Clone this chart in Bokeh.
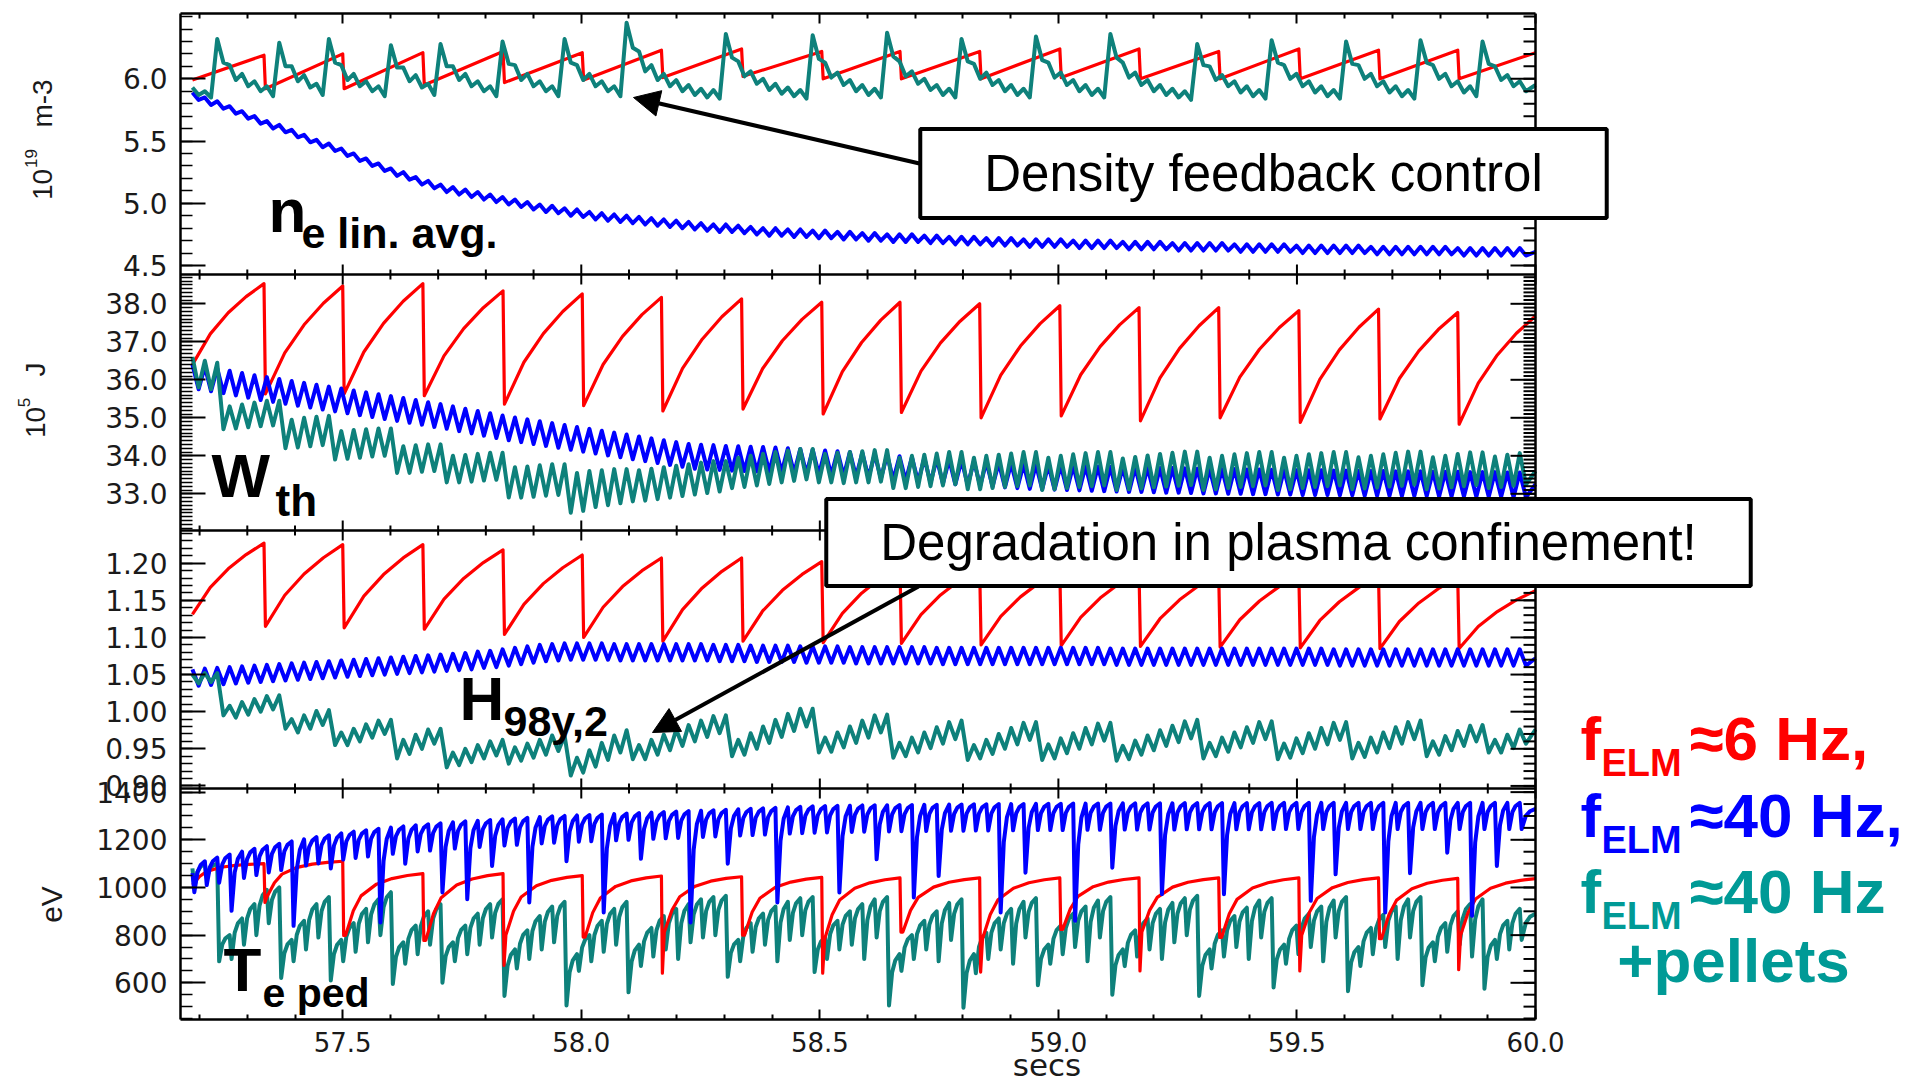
import math
from bokeh.plotting import figure
from bokeh.layouts import row
from bokeh.models import Range1d, LinearAxis, FixedTicker, Label, Arrow, NormalHead, PrintfTickFormatter
from bokeh.embed import file_html
from bokeh.resources import INLINE

# ------------------------------------------------------------------ data
# times of the ~40 Hz ELMs (blue and teal runs), s
elm_t = [57.185, 57.211, 57.237, 57.263, 57.289, 57.315, 57.341, 57.367, 57.393, 57.419,
         57.445, 57.471, 57.497, 57.523, 57.549, 57.575, 57.601, 57.627, 57.653, 57.679,
         57.705, 57.731, 57.757, 57.783, 57.809, 57.835, 57.861, 57.887, 57.913, 57.939,
         57.965, 57.991, 58.017, 58.043, 58.069, 58.095, 58.121, 58.147, 58.173, 58.199,
         58.225, 58.251, 58.277, 58.303, 58.329, 58.355, 58.381, 58.407, 58.433, 58.459,
         58.485, 58.511, 58.537, 58.563, 58.589, 58.615, 58.641, 58.667, 58.693, 58.719,
         58.745, 58.771, 58.797, 58.823, 58.849, 58.875, 58.901, 58.927, 58.953, 58.979,
         59.005, 59.031, 59.057, 59.083, 59.109, 59.135, 59.161, 59.187, 59.213, 59.239,
         59.265, 59.291, 59.317, 59.343, 59.369, 59.395, 59.421, 59.447, 59.473, 59.499,
         59.525, 59.551, 59.577, 59.603, 59.629, 59.655, 59.681, 59.707, 59.733, 59.759,
         59.785, 59.811, 59.837, 59.863, 59.889, 59.915, 59.941, 59.967]
# times of the ~6 Hz ELMs (red run), s
red_t = [57.335, 57.500, 57.668, 57.836, 58.002, 58.168, 58.336, 58.504,
         58.668, 58.835, 59.003, 59.169, 59.336, 59.504, 59.671, 59.837]
t_begin, t_end = 57.185, 60.0

# ---- n_e lin. avg. (1e19 m-3)
red_ne_start, red_ne_end = 5.99, 6.21
red_ne_pre = [6.19, 6.20, 6.21, 6.22, 6.21, 6.23, 6.24, 6.22, 6.22, 6.22, 6.24, 6.24, 6.22, 6.24, 6.23, 6.23]
red_ne_post = [5.92, 5.92, 5.95, 5.97, 5.99, 6.01, 6.02, 6.00, 6.00, 6.00, 6.01, 6.00, 6.00, 6.00, 6.00, 6.00]
blue_ne_hi = [5.89, 5.85, 5.82, 5.78, 5.74, 5.70, 5.66, 5.63, 5.59, 5.55,
              5.51, 5.48, 5.44, 5.40, 5.36, 5.32, 5.28, 5.25, 5.21, 5.18,
              5.15, 5.13, 5.11, 5.09, 5.07, 5.05, 5.03, 5.01, 4.99, 4.98,
              4.96, 4.95, 4.93, 4.92, 4.91, 4.90, 4.89, 4.88, 4.87, 4.86,
              4.85, 4.84, 4.83, 4.83, 4.82, 4.81, 4.80, 4.80, 4.79, 4.79,
              4.78, 4.78, 4.77, 4.77, 4.76, 4.76, 4.75, 4.75, 4.75, 4.74,
              4.74, 4.73, 4.73, 4.73, 4.72, 4.72, 4.72, 4.71, 4.71, 4.71,
              4.71, 4.70, 4.70, 4.70, 4.70, 4.69, 4.69, 4.69, 4.69, 4.68,
              4.68, 4.68, 4.68, 4.68, 4.67, 4.67, 4.67, 4.67, 4.67, 4.66,
              4.66, 4.66, 4.66, 4.66, 4.66, 4.65, 4.65, 4.65, 4.65, 4.65,
              4.65, 4.65, 4.64, 4.64, 4.64, 4.64, 4.64, 4.64]
blue_ne_lo = [5.83, 5.79, 5.76, 5.72, 5.68, 5.64, 5.60, 5.57, 5.53, 5.49,
              5.45, 5.42, 5.38, 5.34, 5.30, 5.26, 5.22, 5.19, 5.15, 5.12,
              5.09, 5.07, 5.05, 5.03, 5.01, 4.99, 4.97, 4.95, 4.93, 4.92,
              4.90, 4.89, 4.87, 4.86, 4.85, 4.84, 4.83, 4.82, 4.81, 4.80,
              4.79, 4.78, 4.77, 4.77, 4.76, 4.75, 4.74, 4.74, 4.73, 4.73,
              4.72, 4.72, 4.71, 4.71, 4.70, 4.70, 4.69, 4.69, 4.69, 4.68,
              4.68, 4.67, 4.67, 4.67, 4.66, 4.66, 4.66, 4.65, 4.65, 4.65,
              4.65, 4.64, 4.64, 4.64, 4.64, 4.63, 4.63, 4.63, 4.63, 4.62,
              4.62, 4.62, 4.62, 4.62, 4.61, 4.61, 4.61, 4.61, 4.61, 4.60,
              4.60, 4.60, 4.60, 4.60, 4.60, 4.59, 4.59, 4.59, 4.59, 4.59,
              4.59, 4.59, 4.58, 4.58, 4.58, 4.58, 4.58, 4.58]
blue_ne_end = 4.61
teal_ne_hi = [5.93, 5.90, 6.32, 6.11, 6.04, 5.98, 5.94, 6.29, 6.10, 6.03,
              5.96, 6.32, 6.11, 6.04, 5.98, 5.94, 6.27, 6.09, 6.03, 5.96,
              6.28, 6.10, 6.04, 5.98, 5.94, 6.30, 6.11, 6.04, 5.98, 5.94,
              6.32, 6.11, 6.04, 5.98, 5.94, 6.45, 6.22, 6.11, 6.04, 5.99,
              5.95, 5.92, 5.91, 6.36, 6.14, 6.06, 6.00, 5.96, 5.93, 5.91,
              6.35, 6.13, 6.05, 5.99, 5.95, 5.92, 6.37, 6.14, 6.06, 6.00,
              5.95, 5.92, 6.32, 6.12, 6.05, 5.99, 5.95, 5.92, 6.34, 6.13,
              6.05, 5.99, 5.95, 5.92, 6.36, 6.13, 6.05, 5.99, 5.95, 5.92,
              5.90, 6.28, 6.10, 6.03, 5.98, 5.94, 5.91, 6.31, 6.11, 6.04,
              5.98, 5.94, 5.91, 6.30, 6.11, 6.04, 5.98, 5.94, 5.91, 6.31,
              6.11, 6.04, 5.98, 5.94, 6.30, 6.10, 6.03, 5.98]
teal_ne_lo = [5.87, 5.85, 6.13, 5.99, 5.94, 5.90, 5.86, 6.10, 5.98, 5.93,
              5.87, 6.13, 5.99, 5.94, 5.90, 5.86, 6.09, 5.98, 5.93, 5.87,
              6.10, 5.99, 5.94, 5.90, 5.86, 6.12, 5.99, 5.94, 5.90, 5.86,
              6.13, 5.99, 5.94, 5.90, 5.86, 6.25, 6.06, 5.99, 5.94, 5.90,
              5.87, 5.85, 5.84, 6.17, 6.02, 5.96, 5.91, 5.88, 5.86, 5.84,
              6.16, 6.01, 5.95, 5.90, 5.87, 5.85, 6.18, 6.02, 5.96, 5.91,
              5.87, 5.85, 6.14, 6.00, 5.95, 5.90, 5.87, 5.85, 6.15, 6.01,
              5.95, 5.90, 5.87, 5.85, 6.17, 6.01, 5.95, 5.90, 5.87, 5.85,
              5.83, 6.11, 5.99, 5.94, 5.89, 5.86, 5.84, 6.13, 6.00, 5.94,
              5.89, 5.86, 5.84, 6.12, 6.00, 5.94, 5.89, 5.86, 5.84, 6.13,
              6.00, 5.94, 5.89, 5.86, 6.12, 5.99, 5.94, 5.90]
teal_ne_end = 5.95

# ---- W_th (1e5 J)
red_W_start, red_W_end = 36.40, 37.68
red_W_pre = [38.53, 38.47, 38.53, 38.34, 38.26, 38.17, 38.13, 38.04, 38.04, 38.00, 37.95, 37.90, 37.90, 37.82, 37.86, 37.77]
red_W_post = [35.63, 35.63, 35.58, 35.36, 35.32, 35.18, 35.23, 35.10, 35.14, 35.00, 35.05, 34.92, 35.00, 34.88, 34.97, 34.83]
blue_W_hi = [36.40, 36.35, 36.30, 36.24, 36.18, 36.12, 36.07, 36.02, 35.97, 35.92,
             35.87, 35.82, 35.77, 35.72, 35.67, 35.62, 35.57, 35.52, 35.47, 35.41,
             35.36, 35.30, 35.24, 35.18, 35.12, 35.06, 35.01, 34.96, 34.91, 34.86,
             34.81, 34.76, 34.71, 34.66, 34.61, 34.56, 34.51, 34.46, 34.41, 34.36,
             34.31, 34.29, 34.28, 34.26, 34.25, 34.24, 34.23, 34.22, 34.20, 34.18,
             34.16, 34.14, 34.12, 34.10, 34.08, 34.05, 34.02, 33.99, 33.96, 33.94,
             33.92, 33.90, 33.88, 33.86, 33.84, 33.82, 33.80, 33.78, 33.77, 33.76,
             33.75, 33.74, 33.73, 33.72, 33.71, 33.70, 33.70, 33.69, 33.68, 33.68,
             33.67, 33.66, 33.66, 33.65, 33.65, 33.64, 33.64, 33.63, 33.63, 33.62,
             33.62, 33.62, 33.61, 33.61, 33.60, 33.60, 33.60, 33.59, 33.59, 33.59,
             33.58, 33.58, 33.58, 33.57, 33.57, 33.57, 33.56, 33.56]
blue_W_lo = [35.75, 35.70, 35.65, 35.59, 35.53, 35.47, 35.42, 35.37, 35.32, 35.27,
             35.22, 35.17, 35.12, 35.07, 35.02, 34.97, 34.92, 34.87, 34.82, 34.76,
             34.71, 34.65, 34.59, 34.53, 34.47, 34.41, 34.36, 34.31, 34.26, 34.21,
             34.16, 34.11, 34.06, 34.01, 33.96, 33.91, 33.86, 33.81, 33.76, 33.71,
             33.66, 33.64, 33.63, 33.61, 33.60, 33.59, 33.58, 33.57, 33.55, 33.53,
             33.51, 33.49, 33.47, 33.45, 33.43, 33.40, 33.37, 33.34, 33.31, 33.29,
             33.27, 33.25, 33.23, 33.21, 33.19, 33.17, 33.15, 33.13, 33.12, 33.11,
             33.10, 33.09, 33.08, 33.07, 33.06, 33.05, 33.05, 33.04, 33.03, 33.03,
             33.02, 33.01, 33.01, 33.00, 33.00, 32.99, 32.99, 32.98, 32.98, 32.97,
             32.97, 32.97, 32.96, 32.96, 32.95, 32.95, 32.95, 32.94, 32.94, 32.94,
             32.93, 32.93, 32.93, 32.92, 32.92, 32.92, 32.91, 32.91]
blue_W_end = 33.25
teal_W_hi = [36.60, 36.50, 36.45, 35.30, 35.35, 35.40, 35.45, 35.45, 34.95, 35.00,
             35.03, 35.05, 34.65, 34.68, 34.70, 34.72, 34.72, 34.25, 34.28, 34.30,
             34.30, 34.00, 34.02, 34.05, 34.08, 34.08, 33.70, 33.72, 33.75, 33.78,
             33.78, 33.55, 33.60, 33.62, 33.65, 33.65, 33.62, 33.66, 33.70, 33.74,
             33.78, 33.82, 33.86, 33.86, 33.95, 34.00, 34.05, 34.10, 34.14, 34.18,
             34.18, 34.05, 34.08, 34.10, 34.12, 34.15, 34.15, 33.95, 34.00, 34.03,
             34.06, 34.10, 34.10, 33.95, 34.00, 34.03, 34.06, 34.10, 34.10, 33.95,
             34.00, 34.04, 34.07, 34.10, 34.10, 33.93, 33.97, 34.01, 34.05, 34.08,
             34.11, 34.11, 33.95, 34.00, 34.04, 34.07, 34.10, 34.10, 33.95, 34.00,
             34.04, 34.07, 34.10, 34.10, 33.96, 34.00, 34.04, 34.08, 34.11, 34.11,
             33.96, 34.00, 34.05, 34.09, 34.09, 33.98, 34.03, 34.07]
teal_W_lo = [35.80, 35.75, 34.70, 34.72, 34.75, 34.78, 34.80, 34.20, 34.22, 34.25,
             34.28, 33.90, 33.92, 33.95, 33.98, 34.00, 33.55, 33.55, 33.58, 33.60,
             33.30, 33.30, 33.32, 33.35, 33.37, 32.90, 32.90, 32.92, 32.95, 32.97,
             32.50, 32.55, 32.65, 32.70, 32.75, 32.80, 32.82, 32.86, 32.90, 32.94,
             32.98, 33.02, 33.06, 33.15, 33.18, 33.22, 33.26, 33.30, 33.34, 33.38,
             33.30, 33.30, 33.28, 33.30, 33.30, 33.32, 33.15, 33.15, 33.18, 33.20,
             33.22, 33.25, 33.12, 33.12, 33.15, 33.18, 33.20, 33.22, 33.10, 33.12,
             33.15, 33.18, 33.20, 33.22, 33.10, 33.12, 33.14, 33.17, 33.19, 33.21,
             33.23, 33.10, 33.12, 33.15, 33.18, 33.20, 33.22, 33.10, 33.12, 33.15,
             33.18, 33.20, 33.22, 33.12, 33.14, 33.16, 33.19, 33.21, 33.24, 33.12,
             33.14, 33.17, 33.20, 33.23, 33.15, 33.18, 33.21, 33.24]
teal_W_end = 33.60

# ---- H98y,2
red_H_start, red_H_end = 1.131, 1.163
red_H_pre = [1.227, 1.225, 1.225, 1.218, 1.211, 1.207, 1.207, 1.202, 1.197, 1.194, 1.191, 1.189, 1.186, 1.184, 1.183, 1.181]
red_H_post = [1.115, 1.113, 1.111, 1.104, 1.100, 1.095, 1.095, 1.093, 1.092, 1.090, 1.089, 1.088, 1.087, 1.086, 1.085, 1.085]
blue_H_hi = [1.057, 1.058, 1.059, 1.060, 1.061, 1.062, 1.063, 1.064, 1.065, 1.066,
             1.067, 1.068, 1.069, 1.070, 1.071, 1.072, 1.073, 1.074, 1.075, 1.076,
             1.077, 1.078, 1.079, 1.081, 1.082, 1.084, 1.086, 1.088, 1.090, 1.091,
             1.092, 1.092, 1.092, 1.092, 1.091, 1.091, 1.091, 1.091, 1.091, 1.091,
             1.091, 1.091, 1.090, 1.090, 1.090, 1.089, 1.089, 1.089, 1.089, 1.088,
             1.088, 1.088, 1.088, 1.087, 1.087, 1.087, 1.087, 1.087, 1.087, 1.087,
             1.086, 1.086, 1.086, 1.086, 1.086, 1.086, 1.086, 1.086, 1.086, 1.086,
             1.086, 1.086, 1.086, 1.086, 1.085, 1.085, 1.085, 1.085, 1.085, 1.085,
             1.085, 1.085, 1.085, 1.085, 1.085, 1.085, 1.085, 1.085, 1.085, 1.085,
             1.085, 1.085, 1.084, 1.084, 1.084, 1.084, 1.084, 1.084, 1.084, 1.084,
             1.084, 1.084, 1.084, 1.084, 1.084, 1.084, 1.084, 1.084]
blue_H_lo = [1.035, 1.036, 1.037, 1.038, 1.039, 1.040, 1.041, 1.042, 1.043, 1.044,
             1.045, 1.046, 1.047, 1.048, 1.049, 1.050, 1.051, 1.052, 1.053, 1.054,
             1.055, 1.056, 1.057, 1.059, 1.060, 1.062, 1.064, 1.066, 1.068, 1.069,
             1.070, 1.070, 1.070, 1.070, 1.069, 1.069, 1.069, 1.069, 1.069, 1.069,
             1.069, 1.069, 1.068, 1.068, 1.068, 1.067, 1.067, 1.067, 1.067, 1.066,
             1.066, 1.066, 1.066, 1.065, 1.065, 1.065, 1.065, 1.065, 1.065, 1.065,
             1.064, 1.064, 1.064, 1.064, 1.064, 1.064, 1.064, 1.064, 1.064, 1.064,
             1.064, 1.064, 1.064, 1.064, 1.063, 1.063, 1.063, 1.063, 1.063, 1.063,
             1.063, 1.063, 1.063, 1.063, 1.063, 1.063, 1.063, 1.063, 1.063, 1.063,
             1.063, 1.063, 1.062, 1.062, 1.062, 1.062, 1.062, 1.062, 1.062, 1.062,
             1.062, 1.062, 1.062, 1.062, 1.062, 1.062, 1.062, 1.062]
blue_H_end = 1.072
teal_H_hi = [1.050, 1.052, 1.052, 1.008, 1.013, 1.017, 1.021, 1.022, 0.990, 0.995,
             1.001, 1.002, 0.972, 0.977, 0.983, 0.988, 0.989, 0.962, 0.969, 0.976,
             0.977, 0.945, 0.950, 0.955, 0.960, 0.962, 0.952, 0.957, 0.962, 0.968,
             0.968, 0.938, 0.948, 0.958, 0.968, 0.975, 0.955, 0.962, 0.969, 0.976,
             0.982, 0.988, 0.994, 0.995, 0.962, 0.971, 0.980, 0.989, 0.997, 1.004,
             1.004, 0.965, 0.972, 0.980, 0.988, 0.995, 0.996, 0.958, 0.965, 0.972,
             0.979, 0.986, 0.988, 0.955, 0.962, 0.970, 0.978, 0.985, 0.986, 0.956,
             0.964, 0.971, 0.978, 0.984, 0.985, 0.954, 0.961, 0.968, 0.975, 0.981,
             0.987, 0.989, 0.958, 0.965, 0.972, 0.979, 0.986, 0.987, 0.957, 0.964,
             0.971, 0.978, 0.985, 0.986, 0.958, 0.965, 0.972, 0.979, 0.986, 0.988,
             0.960, 0.967, 0.974, 0.981, 0.982, 0.962, 0.969, 0.976]
teal_H_lo = [1.038, 1.040, 0.995, 0.992, 0.996, 1.000, 1.003, 0.977, 0.972, 0.977,
             0.982, 0.955, 0.955, 0.960, 0.965, 0.970, 0.937, 0.943, 0.950, 0.957,
             0.925, 0.928, 0.932, 0.937, 0.941, 0.930, 0.934, 0.938, 0.942, 0.947,
             0.914, 0.918, 0.926, 0.935, 0.945, 0.936, 0.936, 0.942, 0.948, 0.954,
             0.960, 0.966, 0.971, 0.940, 0.942, 0.950, 0.958, 0.966, 0.974, 0.980,
             0.945, 0.946, 0.952, 0.958, 0.965, 0.972, 0.938, 0.940, 0.945, 0.951,
             0.957, 0.963, 0.935, 0.937, 0.943, 0.950, 0.956, 0.962, 0.935, 0.937,
             0.944, 0.950, 0.956, 0.961, 0.934, 0.936, 0.942, 0.948, 0.954, 0.959,
             0.964, 0.937, 0.940, 0.946, 0.952, 0.958, 0.963, 0.936, 0.938, 0.944,
             0.950, 0.956, 0.962, 0.937, 0.939, 0.945, 0.951, 0.957, 0.963, 0.940,
             0.942, 0.948, 0.954, 0.960, 0.945, 0.945, 0.951, 0.957]
teal_H_end = 0.976

# ---- T_e ped (eV)
red_Te_start, red_Te_end = 1010, 1037
red_Te_pre = [1100, 1110, 1058, 1058, 1050, 1048, 1045, 1042, 1040, 1040, 1040, 1040, 1040, 1040, 1040, 1038]
red_Te_min = [937, 799, 778, 673, 792, 640, 800, 640, 813, 645, 824, 650, 790, 650, 785, 655]
red_Te_post = [960, 799, 778, 800, 792, 812, 800, 783, 813, 785, 824, 813, 790, 800, 785, 800]
blue_Te_hi = [1060, 1110, 1125, 1138, 1150, 1162, 1173, 1183, 1193, 1202,
              1211, 1219, 1227, 1234, 1240, 1246, 1251, 1256, 1261, 1265,
              1269, 1273, 1277, 1280, 1283, 1286, 1289, 1292, 1295, 1298,
              1300, 1302, 1304, 1306, 1308, 1310, 1312, 1314, 1316, 1318,
              1320, 1322, 1324, 1326, 1328, 1330, 1332, 1334, 1336, 1338,
              1340, 1341, 1342, 1343, 1344, 1345, 1345, 1346, 1346, 1347,
              1347, 1348, 1348, 1349, 1349, 1350, 1350, 1350, 1351, 1351,
              1351, 1352, 1352, 1352, 1352, 1353, 1353, 1353, 1353, 1353,
              1354, 1354, 1354, 1354, 1354, 1354, 1354, 1355, 1355, 1355,
              1355, 1355, 1355, 1355, 1355, 1355, 1355, 1355, 1355, 1355,
              1355, 1355, 1355, 1355, 1355, 1355, 1355, 1355]
blue_Te_lo = [980, 1010, 1020, 902, 1040, 1052, 1063, 1073, 839, 1092,
              1101, 1080, 1117, 1124, 1130, 853, 1141, 1100, 1151, 1155,
              979, 1163, 951, 1170, 1090, 1176, 1179, 937, 1185, 1188,
              1110, 1192, 1194, 895, 1198, 1200, 1120, 1204, 1206, 1208,
              853, 1212, 1214, 1100, 1218, 1220, 1222, 937, 1226, 1228,
              1230, 1231, 979, 1233, 1234, 1118, 1235, 1236, 958, 1237,
              1048, 1238, 1238, 1239, 1239, 895, 1240, 1062, 1241, 1241,
              1241, 860, 1242, 1242, 1083, 1243, 1243, 1243, 972, 1243,
              1244, 1244, 1244, 972, 1244, 1244, 1244, 1245, 1245, 1245,
              944, 1245, 1055, 1245, 1245, 1245, 895, 1245, 1060, 1245,
              1245, 1146, 1245, 881, 1245, 1090, 1245, 1245]
blue_Te_end = 1330
teal_Te_hi = [1080, 1100, 1100, 800, 870, 930, 990, 1000, 780, 860,
              930, 960, 780, 850, 910, 950, 980, 770, 840, 900,
              930, 770, 840, 890, 930, 950, 740, 820, 880, 920,
              940, 720, 800, 860, 910, 940, 760, 830, 880, 910,
              930, 950, 960, 965, 780, 850, 890, 920, 940, 955,
              960, 790, 860, 900, 930, 950, 960, 720, 800, 860,
              900, 935, 950, 720, 810, 870, 910, 940, 955, 760,
              840, 890, 920, 945, 960, 740, 820, 870, 910, 935,
              955, 965, 740, 820, 880, 915, 945, 955, 760, 840,
              890, 920, 945, 960, 750, 830, 885, 920, 950, 960,
              770, 850, 900, 930, 950, 780, 860, 910]
teal_Te_lo = [1000, 1040, 690, 700, 760, 800, 850, 620, 690, 740,
              790, 610, 690, 730, 770, 800, 595, 680, 720, 760,
              600, 690, 720, 760, 790, 545, 660, 700, 740, 770,
              505, 650, 690, 730, 760, 560, 670, 710, 740, 700,
              770, 790, 800, 625, 690, 730, 760, 690, 780, 800,
              645, 700, 740, 760, 700, 790, 505, 650, 700, 740,
              690, 780, 495, 640, 700, 740, 680, 790, 590, 680,
              720, 750, 690, 790, 550, 670, 710, 740, 700, 770,
              800, 545, 660, 710, 750, 700, 790, 580, 680, 720,
              750, 690, 790, 565, 670, 720, 750, 700, 790, 590,
              690, 730, 760, 710, 575, 700, 740, 780]
teal_Te_end = 890

# recovery shapes: (fraction of interval, fraction recovered)
shape_linear = [(0.0, 0.0), (1.0, 1.0)]
shape_red_W = [(0.0, 0.0), (0.25, 0.38), (0.5, 0.64), (0.75, 0.84), (1.0, 1.0)]
shape_red_Te = [(0.0, 0.0), (0.1, 0.4), (0.2, 0.64), (0.4, 0.83), (0.6, 0.92), (0.8, 0.97), (1.0, 1.0)]
shape_Te40 = [(0.0, 0.0), (0.3, 0.65), (0.6, 0.88), (1.0, 1.0)]

# axis ticks
x_major = [57.5, 58.0, 58.5, 59.0, 59.5, 60.0]
x_minor = [57.2, 57.3, 57.4, 57.6, 57.7, 57.8, 57.9, 58.1, 58.2, 58.3, 58.4, 58.6, 58.7, 58.8, 58.9,
           59.1, 59.2, 59.3, 59.4, 59.6, 59.7, 59.8, 59.9]
ne_major, ne_labels = [4.5, 5.0, 5.5, 6.0], ["4.5", "5.0", "5.5", "6.0"]
W_major, W_labels = [33.0, 34.0, 35.0, 36.0, 37.0, 38.0], ["33.0", "34.0", "35.0", "36.0", "37.0", "38.0"]
H_major, H_labels = [0.90, 0.95, 1.00, 1.05, 1.10, 1.15, 1.20], ["0.90", "0.95", "1.00", "1.05", "1.10", "1.15", "1.20"]
Te_major, Te_labels = [600, 800, 1000, 1200, 1400], ["600", "800", "1000", "1200", "1400"]

# ------------------------------------------------------------------ layout
CW, CH = 1913, 1090
LEFT_W = 70                                    # strip holding the rotated unit titles
FL, FR, FT, FB = 180, 1535, 13, 1019           # panel box edges (page px)
T0, T1 = 57.16, 60.0
PXS = (FR - FL) / (T1 - T0)                    # px per second
T_RIGHT = T1 + (CW - FR) / PXS                 # data frame runs on to the page edge
bounds = [274, 530, 788]                       # panel separators (px)
cal = {"ne": (6.0, 78.3, 4.5, 265.0), "W": (38.0, 303.3, 33.0, 493.3),
       "H": (1.20, 562.7, 0.95, 748.3), "Te": (1200.0, 839.3, 600.0, 982.3)}

def tx(px):
    return T0 + (px - FL) / PXS

def vpx(name, v):
    va, ya, vb, yb = cal[name]
    return ya + (va - v) * (yb - ya) / (va - vb)

def pxv(name, y):
    va, ya, vb, yb = cal[name]
    return va + (ya - y) * (va - vb) / (yb - ya)

p = figure(width=CW - LEFT_W, height=CH, x_range=Range1d(T0, T_RIGHT), y_range=Range1d(FB, FT),
           output_backend="svg", toolbar_location=None, title=None,
           x_axis_location=None, y_axis_location=None,
           min_border_left=FL - LEFT_W, min_border_right=0, min_border_top=FT, min_border_bottom=CH - FB)
p.background_fill_color = "white"
p.border_fill_color = "white"
p.outline_line_color = None
p.grid.visible = False
p.extra_y_ranges = {k: Range1d(pxv(k, FB), pxv(k, FT)) for k in cal}


def build(times, hi, lo, drop_dt, shape, start=None, end=None, spike=None):
    xs, ys = [], []
    if start is not None:
        xs.append(start[0]); ys.append(start[1])
    n = min(len(times), len(hi), len(lo))
    for k in range(n):
        t = times[k]
        if xs:
            t0, v0 = xs[-1], ys[-1]
            for f, g in shape[1:-1]:
                xs.append(t0 + f * (t - t0)); ys.append(v0 + g * (hi[k] - v0))
        xs.append(t); ys.append(hi[k])
        if spike is not None:
            xs.append(t + 0.002); ys.append(spike[k])
        xs.append(t + drop_dt); ys.append(lo[k])
    if end is not None:
        t0, v0 = xs[-1], ys[-1]
        for f, g in shape[1:-1]:
            xs.append(t0 + f * (end[0] - t0)); ys.append(v0 + g * (end[1] - v0))
        xs.append(end[0]); ys.append(end[1])
    return xs, ys

RED, BLUE, TEAL = "#ff0000", "#0000ff", "#0e817b"

def draw(name, xy, color, width):
    p.line(xy[0], xy[1], y_range_name=name, line_color=color, line_width=width, line_join="round")

draw("ne", build(red_t, red_ne_pre, red_ne_post, 0.003, shape_linear, (t_begin, red_ne_start), (t_end, red_ne_end)), RED, 3.2)
draw("ne", build(elm_t, blue_ne_hi, blue_ne_lo, 0.013, shape_linear, None, (t_end, blue_ne_end)), BLUE, 4)
draw("ne", build(elm_t, teal_ne_hi, teal_ne_lo, 0.013, shape_linear, None, (t_end, teal_ne_end)), TEAL, 4)
draw("W", build(red_t, red_W_pre, red_W_post, 0.003, shape_red_W, (t_begin, red_W_start), (t_end, red_W_end)), RED, 3.2)
draw("W", build(elm_t, blue_W_hi, blue_W_lo, 0.013, shape_linear, None, (t_end, blue_W_end)), BLUE, 4)
draw("W", build(elm_t, teal_W_hi, teal_W_lo, 0.013, shape_linear, None, (t_end, teal_W_end)), TEAL, 4)
draw("H", build(red_t, red_H_pre, red_H_post, 0.003, shape_red_W, (t_begin, red_H_start), (t_end, red_H_end)), RED, 3.2)
draw("H", build(elm_t, blue_H_hi, blue_H_lo, 0.013, shape_linear, None, (t_end, blue_H_end)), BLUE, 4)
draw("H", build(elm_t, teal_H_hi, teal_H_lo, 0.013, shape_linear, None, (t_end, teal_H_end)), TEAL, 4)
draw("Te", build(elm_t, teal_Te_hi, teal_Te_lo, 0.004, shape_Te40, None, (t_end, teal_Te_end)), TEAL, 4)
draw("Te", build(red_t, red_Te_pre, red_Te_post, 0.006, shape_red_Te, (t_begin, red_Te_start), (t_end, red_Te_end), spike=red_Te_min), RED, 3.2)
draw("Te", build(elm_t, blue_Te_hi, blue_Te_lo, 0.004, shape_Te40, None, (t_end, blue_Te_end)), BLUE, 4)

# ------------------------------------------------------------------ axes
TICK_FONT = "DejaVu Sans"
y_major, y_minor, y_over = [], [], {}
for name, majors, labels, mstep, mlo, mhi in [
        ("ne", ne_major, ne_labels, 0.1, 4.5, 6.5),
        ("W", W_major, W_labels, 0.1, 32.1, 38.7),
        ("H", H_major, H_labels, 0.01, 0.90, 1.24),
        ("Te", Te_major, Te_labels, 50, 450, 1400)]:
    for v, lb in zip(majors, labels):
        y = round(vpx(name, v), 2)
        y_major.append(y)
        y_over[y] = lb
    nsteps = int(round((mhi - mlo) / mstep))
    for i in range(nsteps + 1):
        y_minor.append(round(vpx(name, mlo + i * mstep), 2))

yl = LinearAxis(ticker=FixedTicker(ticks=y_major, minor_ticks=y_minor), major_label_overrides=y_over)
yl.major_tick_in, yl.major_tick_out = 25, 0
yl.minor_tick_in, yl.minor_tick_out = 12, 0
yl.major_tick_line_width = 2
yl.minor_tick_line_width = 1.6
yl.axis_line_width = 2.5
yl.major_label_text_font = TICK_FONT
yl.major_label_text_font_size = "28px"
yl.major_label_text_color = "#1a1a1a"
yl.major_label_standoff = 13
p.add_layout(yl, "left")

def style_x(ax, show):
    ax.ticker = FixedTicker(ticks=x_major, minor_ticks=x_minor)
    ax.bounds = (T0, T1)
    ax.major_tick_in, ax.major_tick_out = 10, 0
    ax.minor_tick_in, ax.minor_tick_out = 5, 0
    ax.major_tick_line_width = 2
    ax.minor_tick_line_width = 2
    ax.axis_line_width = 2.5
    if show:
        ax.formatter = PrintfTickFormatter(format="%.1f")
        ax.major_label_text_font = TICK_FONT
        ax.major_label_text_font_size = "26px"
        ax.major_label_text_color = "#1a1a1a"
        ax.major_label_standoff = 12
        ax.axis_label = "secs"
        ax.axis_label_text_font = TICK_FONT
        ax.axis_label_text_font_size = "31px"
        ax.axis_label_text_font_style = "normal"
        ax.axis_label_text_color = "#1a1a1a"
        ax.axis_label_standoff = -8
    else:
        ax.major_label_text_font_size = "0px"
        ax.major_label_text_color = None
        ax.major_label_standoff = 0

xb = LinearAxis(); style_x(xb, True); p.add_layout(xb, "below")
xt = LinearAxis(); style_x(xt, False); p.add_layout(xt, "above")

# right edge of the panel box, separators and their ticks
sx0, sy0, sx1, sy1 = [T1], [FT], [T1], [FB]
for b in bounds:
    sx0.append(T0); sy0.append(b); sx1.append(T1); sy1.append(b)
p.segment(sx0, sy0, sx1, sy1, line_color="black", line_width=2.5)
tx0, ty0, tx1, ty1 = [], [], [], []
for b in bounds:
    for xv in x_major:
        tx0.append(xv); tx1.append(xv); ty0.append(b - 10); ty1.append(b + 10)
    for xv in x_minor:
        tx0.append(xv); tx1.append(xv); ty0.append(b - 5); ty1.append(b + 5)
for y in y_major:
    tx0.append(T1); tx1.append(T1 - 25 / PXS); ty0.append(y); ty1.append(y)
for y in y_minor:
    tx0.append(T1); tx1.append(T1 - 12 / PXS); ty0.append(y); ty1.append(y)
p.segment(tx0, ty0, tx1, ty1, line_color="black", line_width=2)

# ------------------------------------------------------------------ texts
SANS = "Liberation Sans"

def lab(text, px, base, size, color="black", bold=True, align="left", **kw):
    # base = page y of the text baseline
    p.add_layout(Label(x=tx(px), y=base - 0.35 * size, text=text, text_font=SANS,
                       text_font_size=f"{size}px", text_color=color, text_align=align,
                       text_baseline="middle", text_font_style="bold" if bold else "normal", **kw))

lab("n", 268, 232, 62)
lab("e lin. avg.", 301, 248, 43)
lab("W", 211, 497, 62)
lab("th", 275, 515, 44)
lab("H", 459, 720, 62)
lab("98y,2", 503, 736, 43)
lab("T", 223, 991, 62)
lab("e ped", 262, 1007, 41)

p.add_layout(Arrow(end=NormalHead(size=26, fill_color="black", line_color="black"),
                   x_start=tx(919), y_start=163, x_end=tx(633), y_end=97,
                   line_color="black", line_width=4))
p.add_layout(Arrow(end=NormalHead(size=26, fill_color="black", line_color="black"),
                   x_start=tx(918), y_start=586, x_end=tx(652), y_end=732,
                   line_color="black", line_width=4))
for text, cx, cy, pad in [("Density feedback control", 1263, 173, (64, 16)),
                          ("Degradation in plasma confinement!", 1288, 542, (54, 15))]:
    p.add_layout(Label(x=tx(cx), y=cy, text=text, text_font=SANS, text_font_size="51px",
                       text_align="center", text_baseline="middle", text_color="black",
                       background_fill_color="white", border_line_color="black",
                       border_line_width=4, padding=pad))

TEAL_TXT = "#009a96"
for color, base, rest in [(RED, 760, "\u22486 Hz,"), (BLUE, 837, "\u224840 Hz,"), (TEAL_TXT, 913, "\u224840 Hz")]:
    lab("f", 1580, base, 62, color=color)
    lab("ELM", 1601, base + 16, 38, color=color)
    lab(rest, 1689, base, 62, color=color)
lab("+pellets", 1733, 982, 62, color=TEAL_TXT, align="center")

# ------------------------------------------------------------------ unit titles strip
# (its frame is aligned with the main frame by the row layout, so it shares the page-px y range)
pl = figure(width=LEFT_W, height=CH, x_range=Range1d(0, LEFT_W), y_range=Range1d(FB, FT),
            output_backend="svg", toolbar_location=None, title=None,
            x_axis_location=None, y_axis_location=None,
            min_border_left=0, min_border_right=0, min_border_top=FT, min_border_bottom=CH - FB)
pl.outline_line_color = None
pl.grid.visible = False
pl.background_fill_color = "white"
pl.border_fill_color = "white"

def rot(text, cx, cy, size):
    pl.add_layout(Label(x=cx, y=cy, text=text, angle=math.pi / 2, text_font=SANS,
                        text_font_size=f"{size}px", text_align="center", text_baseline="middle",
                        text_color="#1a1a1a"))

rot("m-3", 42, 103, 28)
rot("10", 42, 184, 28)
rot("19", 30, 158, 17)
rot("J", 35, 369, 28)
rot("10", 35, 422, 28)
rot("5", 23, 402, 17)
rot("eV", 51, 904, 30)

layout = row(pl, p, spacing=0)
open("out.html", "w").write(file_html(layout, INLINE))
